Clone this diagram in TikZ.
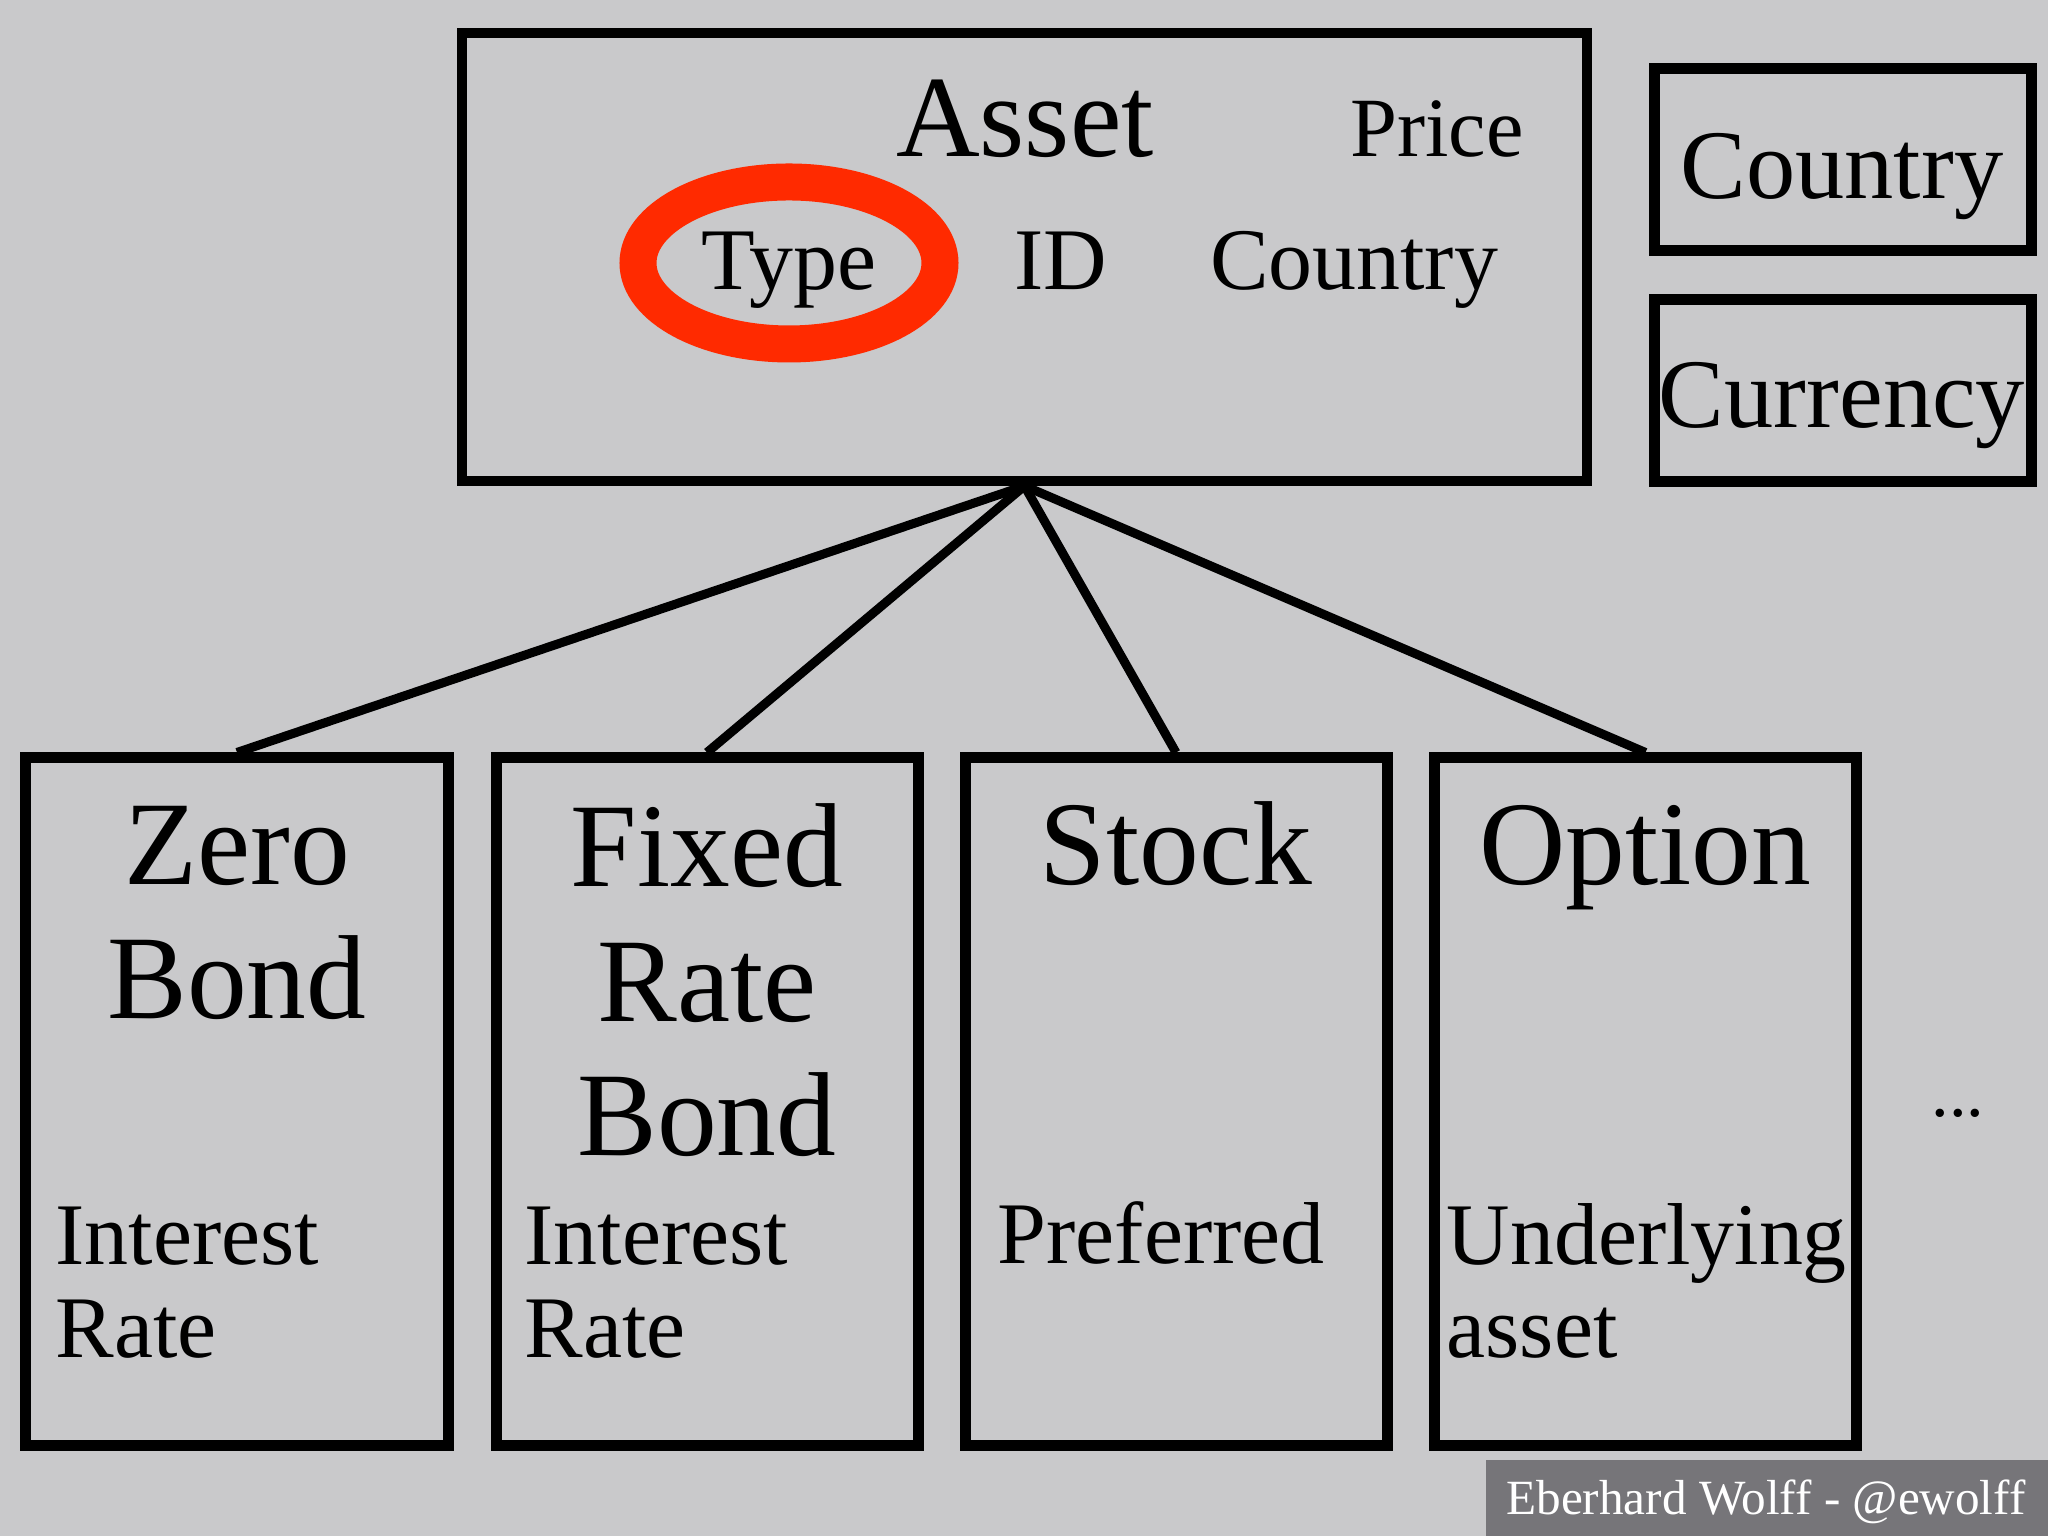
\documentclass[tikz,border=0pt]{standalone}
\usepackage{fontspec}
\setmainfont{Liberation Serif}
\usepackage{xcolor}
\usetikzlibrary{positioning}
\definecolor{slidebg}{RGB}{201,201,203}
\definecolor{footbg}{RGB}{118,117,121}
\definecolor{markred}{RGB}{255,42,0}

\begin{document}
\begin{tikzpicture}[
    box/.style={draw, line width=1.1mm, inner sep=0pt},
    subbox/.style={box, minimum width=4.22cm, minimum height=6.88cm},
    valbox/.style={box, minimum width=3.77cm, minimum height=1.82cm},
    title/.style={font=\fontsize{34}{38.4}\selectfont, align=center, anchor=base},
    attr/.style={font=\fontsize{25}{26.7}\selectfont, align=left, anchor=base west, inner sep=0pt},
    field/.style={font=\fontsize{25}{30}\selectfont, anchor=base},
    link/.style={line width=0.9mm}
]
    % Slide background
    \fill[slidebg] (0,0) rectangle (20.48,15.36);
    \useasboundingbox (0,0) rectangle (20.48,15.36);

    % Asset and its fields
    \node[box, line width=1mm, minimum width=11.25cm, minimum height=4.48cm] at (10.245,12.79) (asset) {};
    \node[font=\fontsize{33}{40}\selectfont, anchor=base] at (10.25,13.79) (assetname) {Asset};
    \node[field, font=\fontsize{24}{29}\selectfont] at (14.37,13.79) (price) {Price};
    \node[field] at (7.89,12.46) (type) {Type};
    \node[field] at (10.61,12.46) (id) {ID};
    \node[field] at (13.54,12.46) (assetcountry) {Country};
    \draw[markred, line width=3.7mm] (7.89,12.73) ellipse [x radius=1.51cm, y radius=0.81cm];

    % Value objects
    \node[valbox] at (18.425,13.765) (country) {};
    \node[font=\fontsize{28}{34}\selectfont, anchor=base] at (18.42,13.37) (countryname) {Country};
    \node[valbox] at (18.425,11.455) (currency) {};
    \node[font=\fontsize{28}{34}\selectfont, anchor=base] at (18.42,11.08) (currencyname) {Currency};

    % Asset types (base = last line)
    \node[subbox] at (2.37,4.34) (zero) {};
    \node[subbox] at (7.07,4.34) (fixed) {};
    \node[subbox] at (11.76,4.34) (stock) {};
    \node[subbox] at (16.455,4.34) (option) {};

    \node[title] at (2.37,5.17) (zeroname) {Zero\\Bond};
    \node[title] at (7.07,3.80) (fixedname) {Fixed\\Rate\\Bond};
    \node[title] at (11.76,6.51) (stockname) {Stock};
    \node[title] at (16.455,6.51) (optionname) {Option};

    \node[attr] at (0.55,1.78) (zerorate) {Interest\\Rate};
    \node[attr] at (5.24,1.78) (fixedrate) {Interest\\Rate};
    \node[attr] at (9.97,2.72) (preferred) {Preferred};
    \node[attr] at (14.46,1.78) (underlying) {Underlying\\asset};

    \node[font=\fontsize{20}{24}\selectfont, anchor=base] at (19.58,4.19) (more) {...};

    \draw[link] (asset.south) -- (zero.north);
    \draw[link] (asset.south) -- (fixed.north);
    \draw[link] (asset.south) -- (stock.north);
    \draw[link] (asset.south) -- (option.north);

    % Footer
    \fill[footbg] (14.86,0) rectangle (20.48,0.76);
    \node[text=white, font=\fontsize{14}{17}\selectfont, anchor=base] at (17.66,0.21) (author) {Eberhard Wolff - @ewolff};
\end{tikzpicture}
\end{document}
